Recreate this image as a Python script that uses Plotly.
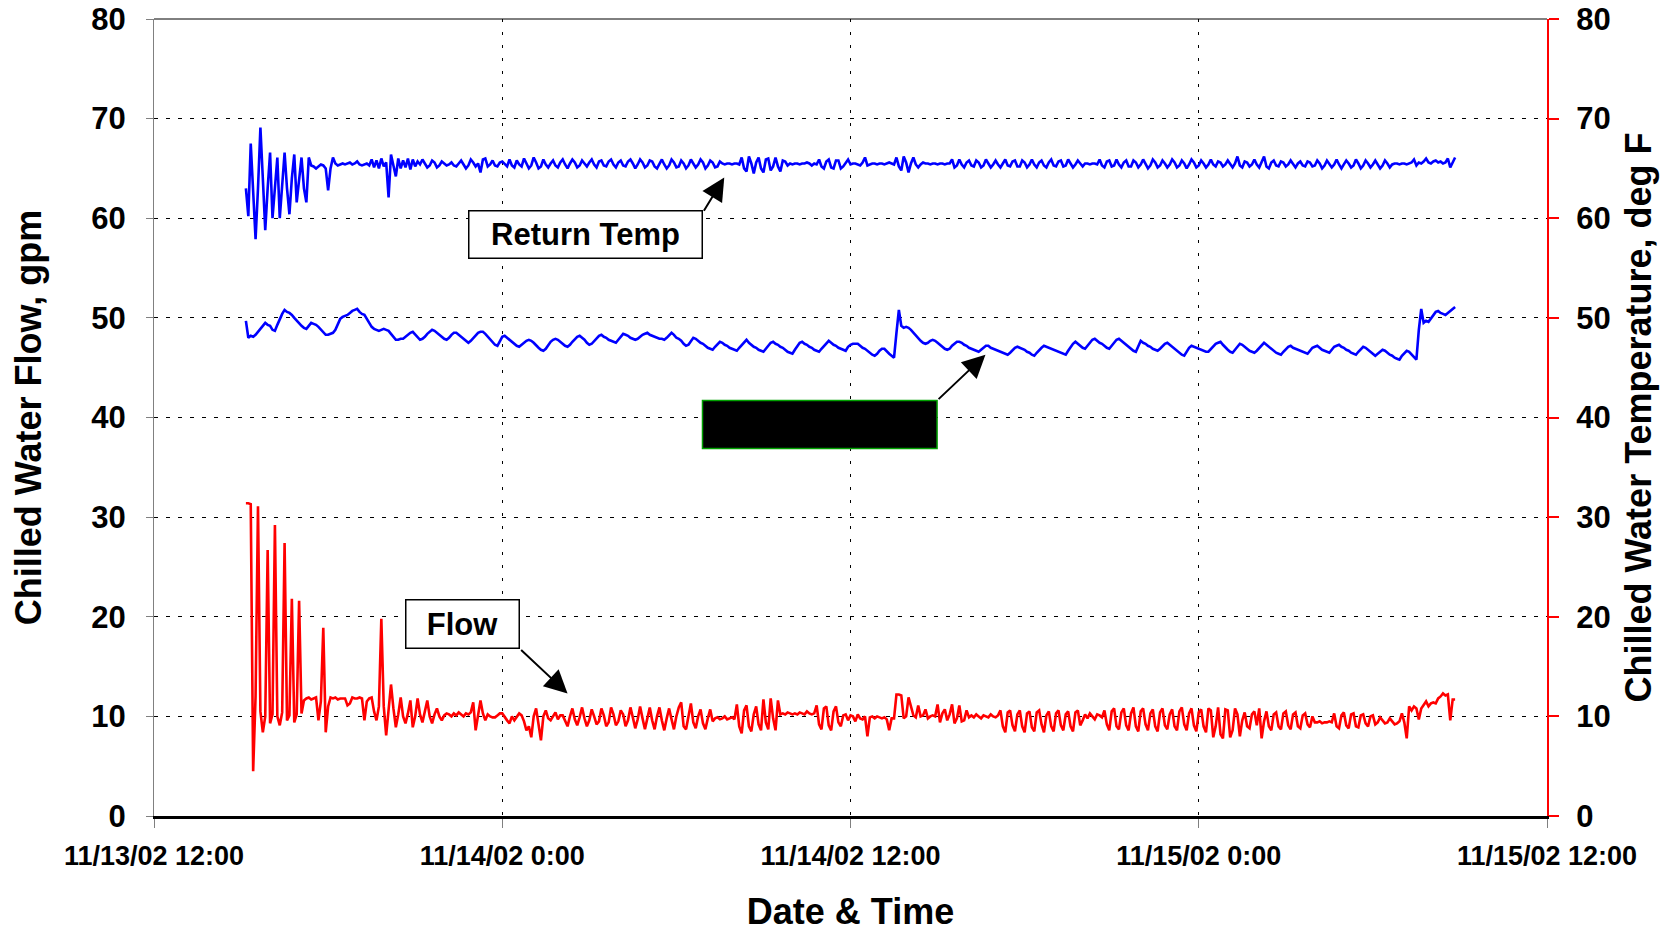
import pandas as pd
import plotly.graph_objects as go

# ---------------- data (5-minute readings starting 11/13/02 15:10) ----------------
start_time = "2002-11-13 15:10"

flow_gpm = [
    31.4, 31.4, 31.3, 4.5, 12.0, 31.1, 10.5, 8.4, 10.0, 26.7, 9.3, 10.2,
    29.2, 10.0, 9.1, 10.4, 27.4, 9.6, 10.1, 21.8, 9.4, 10.2, 21.6, 10.3,
    11.6, 11.8, 11.9, 11.7, 11.8, 11.9, 9.6, 11.5, 18.9, 8.4, 11.0, 11.9,
    11.8, 11.9, 11.7, 11.8, 11.8, 11.8, 11.1, 11.3, 11.9, 11.8, 11.8, 11.9,
    11.8, 9.6, 11.5, 11.8, 11.9, 10.5, 9.6, 11.0, 19.8, 11.0, 8.1, 10.5,
    13.2, 10.8, 8.9, 10.2, 11.9, 10.0, 9.3, 10.3, 11.6, 8.9, 10.0, 11.8,
    10.2, 9.4, 10.5, 11.6, 10.0, 9.3, 10.2, 10.8, 10.0, 9.6, 10.1, 10.3,
    10.2, 10.0, 10.3, 10.1, 10.4, 10.2, 10.0, 10.3, 10.2, 10.4, 11.4, 8.6,
    10.0, 11.6, 10.3, 9.6, 10.2, 10.0, 9.9, 9.9, 10.1, 10.3, 10.3, 9.9,
    9.6, 9.3, 10.0, 9.6, 9.9, 10.3, 10.1, 9.5, 8.6, 9.0, 7.9, 10.0,
    10.8, 9.0, 7.6, 10.0, 10.6, 9.8, 9.6, 10.0, 10.4, 9.7, 10.1, 10.1,
    9.6, 9.0, 10.0, 10.8, 9.7, 9.1, 9.9, 10.9, 9.8, 9.0, 9.6, 10.7,
    10.0, 9.2, 9.5, 10.8, 10.1, 9.0, 9.4, 10.9, 10.2, 9.1, 9.5, 10.6,
    10.2, 9.0, 9.6, 10.9, 9.9, 8.8, 9.7, 11.0, 9.8, 8.7, 9.8, 10.9,
    9.6, 8.7, 10.0, 10.9, 9.6, 8.6, 9.8, 10.8, 9.7, 8.7, 10.0, 10.9,
    11.4, 9.0, 8.7, 10.2, 11.3, 9.4, 8.8, 10.0, 10.7, 9.3, 8.7, 9.8,
    10.7, 9.5, 9.8, 9.9, 9.7, 9.8, 10.0, 9.7, 9.8, 9.9, 9.7, 11.2,
    9.0, 8.3, 10.6, 11.1, 9.0, 8.5, 10.2, 11.0, 9.2, 8.6, 11.7, 9.4,
    8.7, 11.8, 9.8, 8.6, 11.6, 10.2, 10.3, 10.2, 10.4, 10.3, 10.2, 10.3,
    10.2, 10.4, 10.3, 10.2, 10.5, 10.3, 10.2, 10.3, 11.1, 9.2, 8.7, 10.8,
    11.0, 9.1, 8.6, 10.5, 11.0, 9.4, 9.0, 10.1, 10.2, 9.6, 10.1, 10.0,
    9.5, 10.2, 9.8, 9.7, 10.0, 8.0, 9.9, 10.0, 9.8, 10.0, 9.9, 9.8,
    9.9, 9.7, 8.6, 9.8, 9.8, 12.2, 12.2, 12.1, 9.8, 10.0, 11.9, 10.9,
    10.1, 9.9, 11.1, 10.0, 10.1, 10.7, 9.8, 10.0, 10.1, 10.0, 11.2, 9.4,
    10.3, 10.7, 9.6, 10.2, 11.2, 9.3, 9.8, 11.1, 9.5, 9.6, 10.6, 9.9,
    10.1, 9.9, 10.2, 10.0, 9.8, 10.1, 10.0, 9.9, 10.2, 10.0, 9.9, 10.1,
    10.6, 9.0, 8.4, 10.4, 10.6, 9.1, 8.5, 10.2, 10.6, 9.0, 8.4, 10.3,
    10.5, 8.9, 8.5, 10.4, 10.6, 9.2, 8.4, 10.1, 10.5, 9.0, 8.5, 10.3,
    10.6, 9.1, 8.6, 10.2, 10.5, 9.0, 8.5, 10.4, 10.6, 9.1, 9.6, 10.2,
    9.8, 10.3, 10.0, 9.7, 10.2, 10.1, 9.9, 10.6, 9.2, 8.6, 10.5, 10.8,
    9.0, 8.7, 10.4, 10.8, 9.1, 8.6, 10.3, 10.9, 9.0, 8.5, 10.5, 10.8,
    9.2, 8.6, 10.3, 10.7, 9.0, 8.5, 10.4, 10.8, 9.1, 8.7, 10.2, 10.7,
    9.0, 8.6, 10.5, 10.9, 9.2, 8.6, 10.3, 10.8, 9.1, 8.5, 10.4, 10.7,
    9.0, 8.4, 10.8, 10.6, 7.9, 9.0, 10.9, 8.2, 7.8, 10.7, 10.6, 7.9,
    8.6, 10.8, 10.2, 8.0, 9.6, 10.4, 9.0, 8.8, 10.2, 10.5, 9.1, 10.8,
    7.8, 9.5, 10.5, 9.0, 8.6, 10.2, 10.4, 9.0, 8.7, 10.3, 10.5, 9.1,
    8.7, 10.2, 10.4, 9.0, 8.8, 10.1, 10.3, 9.2, 8.9, 10.0, 9.4, 9.4,
    9.5, 9.3, 9.4, 9.4, 9.5, 9.4, 10.3, 9.0, 8.8, 10.1, 10.4, 9.1,
    8.8, 10.2, 10.3, 9.0, 8.9, 10.1, 10.2, 9.3, 9.0, 10.0, 10.1, 9.2,
    9.4, 9.9, 9.6, 9.3, 9.4, 9.8, 9.5, 9.2, 9.3, 9.5, 10.3, 9.4,
    7.8, 11.0, 10.6, 11.0, 10.8, 9.7, 10.8, 11.2, 11.5, 11.0, 11.3, 11.4,
    11.3, 11.8, 12.0, 12.3, 12.1, 12.2, 9.6, 11.7, 11.7,
]

return_temp_f = [
    63.0, 60.2, 67.5, 62.0, 57.9, 63.0, 69.1, 64.0, 58.8, 63.0, 66.6, 60.0,
    63.5, 66.1, 60.0, 63.0, 66.6, 63.0, 60.4, 64.0, 66.4, 61.6, 64.0, 66.1,
    63.0, 61.6, 66.1, 65.3, 65.2, 65.0, 65.2, 65.4, 65.3, 65.0, 62.8, 65.0,
    66.1, 65.5, 65.3, 65.4, 65.5, 65.4, 65.5, 65.6, 65.4, 65.5, 65.7, 65.4,
    65.3, 65.4, 65.5, 65.3, 65.9, 65.1, 65.8, 65.0, 66.0, 65.2, 65.6, 62.1,
    66.4, 65.3, 64.2, 66.0, 65.0, 65.8, 65.1, 66.0, 64.9, 65.9, 65.2, 65.7,
    65.4, 65.9, 65.5, 65.1, 65.3, 65.8, 65.6, 65.1, 65.3, 65.7, 65.5, 65.3,
    65.4, 65.6, 65.3, 65.2, 65.5, 65.8, 65.4, 65.0, 65.3, 65.9, 65.6, 65.2,
    65.5, 64.6, 65.9, 66.0, 65.2, 65.4, 65.8, 65.3, 65.2, 65.6, 65.7, 65.4,
    65.2, 65.9, 65.3, 65.1, 65.8, 65.4, 65.2, 66.0, 65.5, 65.0, 65.3, 66.1,
    65.6, 65.0, 65.2, 65.9, 65.4, 65.1, 65.5, 65.8, 65.3, 65.1, 65.6, 65.9,
    65.4, 65.0, 65.5, 65.9, 65.6, 65.1, 65.3, 65.8, 65.5, 65.2, 65.6, 65.9,
    65.4, 65.1, 65.7, 65.8, 65.3, 65.2, 65.7, 65.9, 65.4, 65.1, 65.6, 65.8,
    65.3, 65.2, 65.7, 65.9, 65.5, 65.0, 65.4, 65.9, 65.6, 65.1, 65.3, 65.8,
    65.7, 65.2, 65.0, 65.5, 65.9, 65.4, 65.0, 65.3, 65.9, 65.6, 65.1, 65.2,
    65.8, 65.5, 65.0, 65.3, 65.9, 65.5, 65.1, 65.4, 65.9, 65.6, 65.0, 65.3,
    65.8, 65.6, 65.1, 65.2, 65.7, 65.5, 65.4, 65.5, 65.5, 65.4, 65.5, 65.5,
    65.4, 66.1, 65.0, 64.7, 66.2, 65.5, 64.5, 65.6, 66.1, 65.0, 64.6, 65.9,
    66.0, 64.8, 65.2, 66.1, 65.2, 64.7, 65.8, 65.7, 65.3, 65.5, 65.4, 65.5,
    65.5, 65.4, 65.5, 65.5, 65.6, 65.5, 65.3, 65.5, 65.4, 65.9, 65.2, 65.0,
    65.7, 65.9, 65.1, 65.0, 65.8, 65.8, 65.0, 65.2, 65.6, 65.9, 65.4, 65.5,
    65.5, 65.4, 65.3, 65.6, 66.1, 65.3, 65.4, 65.5, 65.5, 65.4, 65.5, 65.5,
    65.4, 65.5, 65.6, 65.5, 65.4, 66.1, 65.2, 64.8, 66.2, 65.6, 64.6, 65.5,
    66.1, 65.4, 65.1, 65.4, 65.6, 65.5, 65.5, 65.4, 65.5, 65.5, 65.4, 65.5,
    65.5, 65.4, 65.5, 65.5, 65.9, 65.1, 65.3, 65.9, 65.4, 65.1, 65.6, 65.8,
    65.3, 65.2, 65.8, 65.6, 65.1, 65.3, 65.9, 65.5, 65.1, 65.4, 65.8, 65.4,
    65.1, 65.5, 65.9, 65.3, 65.2, 65.7, 65.8, 65.2, 65.2, 65.8, 65.6, 65.1,
    65.4, 65.9, 65.4, 65.1, 65.6, 65.8, 65.3, 65.1, 65.6, 65.9, 65.3, 65.2,
    65.7, 65.8, 65.2, 65.3, 65.9, 65.5, 65.1, 65.4, 65.8, 65.5, 65.2, 65.5,
    65.5, 65.4, 65.5, 65.5, 65.4, 65.9, 65.3, 65.1, 65.7, 65.8, 65.2, 65.3,
    65.9, 65.4, 65.1, 65.6, 65.8, 65.2, 65.2, 65.8, 65.6, 65.1, 65.4, 65.9,
    65.5, 65.0, 65.3, 65.9, 65.6, 65.1, 65.3, 65.8, 65.5, 65.1, 65.4, 65.9,
    65.6, 65.1, 65.3, 65.8, 65.5, 65.0, 65.4, 65.9, 65.6, 65.1, 65.3, 65.8,
    65.5, 65.1, 65.4, 65.9, 65.4, 65.2, 65.7, 65.6, 65.2, 65.4, 65.8, 65.4,
    65.1, 65.5, 66.2, 65.3, 65.1, 65.7, 65.6, 65.2, 65.4, 65.9, 65.4, 65.1,
    65.6, 66.2, 65.2, 65.0, 65.6, 65.8, 65.3, 65.2, 65.7, 65.6, 65.2, 65.4,
    65.8, 65.4, 65.1, 65.5, 65.7, 65.3, 65.2, 65.7, 65.6, 65.2, 65.3, 65.8,
    65.5, 65.0, 65.3, 65.8, 65.5, 65.1, 65.4, 65.9, 65.4, 65.0, 65.4, 65.8,
    65.5, 65.1, 65.3, 65.9, 65.5, 65.0, 65.3, 65.8, 65.5, 65.1, 65.4, 65.8,
    65.4, 65.0, 65.3, 65.8, 65.5, 65.1, 65.4, 65.5, 65.5, 65.4, 65.5, 65.5,
    65.4, 65.5, 65.6, 65.9, 65.3, 65.6, 65.5, 65.7, 66.0, 65.6, 65.5, 65.7,
    65.8, 65.6, 65.7, 65.5, 65.6, 66.0, 65.1, 65.6, 66.1,
]

supply_temp_f = [
    49.7, 48.0, 48.2, 48.1, 48.3, 48.6, 48.9, 49.1, 49.5, 49.3, 49.2, 48.8,
    48.7, 49.3, 49.9, 50.4, 50.8, 50.6, 50.5, 50.3, 50.0, 49.7, 49.5, 49.2,
    49.0, 48.9, 49.2, 49.5, 49.4, 49.3, 49.1, 48.8, 48.5, 48.3, 48.3, 48.4,
    48.5, 48.8, 49.4, 49.9, 50.1, 50.2, 50.3, 50.5, 50.7, 50.8, 50.9, 50.6,
    50.4, 50.3, 49.9, 49.5, 49.1, 48.9, 48.8, 48.7, 48.8, 48.9, 48.8, 48.7,
    48.4, 48.1, 47.8, 47.8, 47.9, 47.9, 48.1, 48.3, 48.5, 48.6, 48.3, 48.0,
    47.8, 47.9, 48.1, 48.4, 48.6, 48.8, 48.7, 48.5, 48.3, 48.1, 47.9, 47.8,
    48.0, 48.3, 48.5, 48.5, 48.3, 48.1, 47.9, 47.7, 47.5, 47.7, 48.0, 48.3,
    48.5, 48.6, 48.6, 48.4, 48.1, 47.8, 47.5, 47.3, 47.2, 47.6, 48.1, 48.2,
    48.0, 47.8, 47.6, 47.4, 47.2, 47.1, 47.3, 47.5, 47.7, 47.8, 47.7, 47.5,
    47.2, 47.0, 46.8, 46.7, 46.9, 47.3, 47.6, 47.8, 47.9, 47.8, 47.6, 47.4,
    47.2, 47.1, 47.3, 47.6, 47.9, 48.1, 48.2, 48.0, 47.8, 47.5, 47.3, 47.4,
    47.7, 48.0, 48.2, 48.3, 48.1, 48.0, 47.8, 47.7, 47.6, 47.5, 47.8, 48.1,
    48.4, 48.3, 48.2, 48.0, 47.9, 47.8, 47.9, 48.1, 48.3, 48.4, 48.5, 48.3,
    48.2, 48.1, 48.0, 47.9, 47.9, 47.8, 48.0, 48.3, 48.5, 48.3, 48.0, 47.9,
    47.7, 47.4, 47.2, 47.3, 47.7, 48.0, 47.9, 47.7, 47.5, 47.4, 47.2, 47.0,
    46.9, 46.8, 47.1, 47.4, 47.6, 47.5, 47.3, 47.2, 47.0, 46.9, 46.8, 46.7,
    47.0, 47.3, 47.6, 47.8, 47.5, 47.3, 47.1, 47.0, 46.8, 46.7, 46.6, 46.9,
    47.2, 47.5, 47.6, 47.4, 47.3, 47.1, 47.0, 46.8, 46.6, 46.5, 46.4, 46.8,
    47.2, 47.5, 47.6, 47.4, 47.3, 47.1, 47.0, 46.8, 46.7, 46.6, 46.9, 47.2,
    47.5, 47.7, 47.5, 47.3, 47.2, 47.0, 46.9, 46.8, 46.7, 47.1, 47.3, 47.4,
    47.4, 47.4, 47.2, 47.0, 46.9, 46.7, 46.5, 46.3, 46.2, 46.4, 46.7, 46.9,
    46.9, 46.6, 46.4, 46.2, 46.0, 48.5, 50.8, 49.2, 49.0, 49.1, 49.0, 48.8,
    48.5, 48.2, 47.9, 47.7, 47.5, 47.4, 47.5, 47.7, 47.8, 47.7, 47.5, 47.3,
    47.1, 46.9, 46.8, 46.9, 47.2, 47.4, 47.6, 47.6, 47.5, 47.3, 47.2, 47.0,
    46.9, 46.8, 46.7, 46.6, 46.8, 47.0, 47.2, 47.2, 47.0, 46.9, 46.8, 46.7,
    46.6, 46.5, 46.4, 46.3, 46.5, 46.8, 47.0, 47.1, 47.0, 46.9, 46.8, 46.6,
    46.5, 46.3, 46.2, 46.5, 46.8, 47.0, 47.2, 47.1, 47.0, 46.9, 46.8, 46.7,
    46.6, 46.5, 46.4, 46.3, 46.7, 47.1, 47.4, 47.6, 47.4, 47.2, 47.0, 46.9,
    47.2, 47.5, 47.8, 47.9, 47.7, 47.5, 47.4, 47.2, 47.0, 46.9, 47.2, 47.5,
    47.8, 47.9, 47.7, 47.5, 47.3, 47.1, 46.9, 46.7, 46.6, 47.2, 47.7, 47.5,
    47.4, 47.2, 47.1, 46.9, 46.8, 46.7, 46.9, 47.2, 47.4, 47.5, 47.3, 47.1,
    46.9, 46.7, 46.5, 46.3, 46.2, 46.6, 47.0, 47.2, 47.1, 47.0, 46.9, 46.8,
    46.7, 46.6, 46.6, 46.9, 47.2, 47.4, 47.5, 47.6, 47.3, 47.0, 46.8, 46.6,
    46.5, 46.8, 47.1, 47.4, 47.3, 47.1, 46.9, 46.7, 46.6, 46.5, 46.7, 47.0,
    47.3, 47.5, 47.3, 47.1, 46.9, 46.7, 46.5, 46.4, 46.3, 46.6, 46.9, 47.1,
    47.2, 47.0, 46.9, 46.8, 46.7, 46.6, 46.5, 46.4, 46.7, 47.0, 47.1, 47.2,
    47.0, 46.8, 46.7, 46.6, 46.5, 46.8, 47.1, 47.2, 47.3, 47.1, 47.0, 46.8,
    46.7, 46.5, 46.4, 46.3, 46.6, 46.9, 47.1, 47.0, 46.8, 46.6, 46.4, 46.2,
    46.4, 46.6, 46.8, 46.7, 46.5, 46.3, 46.2, 46.0, 45.9, 45.8, 46.2, 46.5,
    46.7, 46.6, 46.3, 46.0, 45.8, 48.8, 50.9, 49.5, 49.7, 49.6, 49.9, 50.3,
    50.6, 50.7, 50.5, 50.4, 50.3, 50.5, 50.7, 50.9, 51.1,
]

x_tick_times = ["2002-11-13 12:00", "2002-11-14 00:00", "2002-11-14 12:00",
                "2002-11-15 00:00", "2002-11-15 12:00"]
x_tick_labels = ["11/13/02 12:00", "11/14/02 0:00", "11/14/02 12:00",
                 "11/15/02 0:00", "11/15/02 12:00"]
y_ticks = [0, 10, 20, 30, 40, 50, 60, 70, 80]

# ---------------- figure ----------------
FONT = "Liberation Sans, Arial, sans-serif"


def times(n):
    return pd.date_range(start=start_time, periods=n, freq="5min")


fig = go.Figure()
fig.add_trace(go.Scatter(x=times(len(flow_gpm)), y=flow_gpm, mode="lines",
                         line=dict(color="#FF0000", width=2.6), yaxis="y",
                         name="Flow"))
fig.add_trace(go.Scatter(x=times(len(return_temp_f)), y=return_temp_f, mode="lines",
                         line=dict(color="#0000FF", width=2.6), yaxis="y2",
                         name="Return Temp"))
fig.add_trace(go.Scatter(x=times(len(supply_temp_f)), y=supply_temp_f, mode="lines",
                         line=dict(color="#0000FF", width=2.6), yaxis="y2",
                         name="Supply Temp"))

xtickfont = dict(family=FONT, size=27, color="black", weight="bold")
ytickfont = dict(family=FONT, size=31, color="black", weight="bold")
titlefont = dict(family=FONT, size=36, color="black", weight="bold")

# the page body adds an 8 px offset; margins compensate for it
fig.update_layout(
    width=1671, height=930,
    margin=dict(l=146, r=132, t=11, b=122),
    paper_bgcolor="white", plot_bgcolor="white",
    showlegend=False,
    font=dict(family=FONT, color="black", weight="bold"),
    xaxis=dict(
        range=[x_tick_times[0], x_tick_times[-1]], automargin=False,
        tickvals=x_tick_times, ticktext=x_tick_labels,
        tickfont=xtickfont, ticks="outside", ticklen=9, tickcolor="#808080",
        tickwidth=1, ticklabelstandoff=5, ticklabeloverflow="allow",
        showgrid=True, gridcolor="black", gridwidth=1, griddash="3px,10px",
        showline=True, linecolor="black", linewidth=2.5, zeroline=False,
        title=dict(text="Date & Time", font=titlefont, standoff=29),
    ),
    yaxis=dict(
        range=[0, 80], tickvals=y_ticks, tickfont=ytickfont, automargin=False,
        ticks="outside", ticklen=7, tickcolor="#808080", ticklabelstandoff=14,
        ticklabeloverflow="allow",
        showgrid=True, gridcolor="black", gridwidth=1, griddash="4px,8px",
        showline=True, linecolor="#808080", linewidth=1, zeroline=False,
        title=dict(text="Chilled Water Flow, gpm", font=titlefont, standoff=42),
    ),
    yaxis2=dict(
        range=[0, 80], tickvals=y_ticks, tickfont=ytickfont, automargin=False,
        overlaying="y", side="right",
        ticks="outside", ticklen=10, tickcolor="#FF0000", tickwidth=2,
        ticklabelstandoff=11, ticklabeloverflow="allow",
        showgrid=False, showline=True, linecolor="#FF0000", linewidth=2,
        zeroline=False,
        title=dict(text="Chilled Water Temperature, deg F", font=titlefont,
                   standoff=16),
    ),
    yaxis3=dict(
        range=[0, 80], tickvals=y_ticks, overlaying="y", side="right",
        automargin=False,
        ticks="inside", ticklen=10, tickcolor="#FF0000", tickwidth=2,
        showticklabels=False, showgrid=False, showline=False, zeroline=False,
    ),
)

# top border of plot area
fig.add_shape(type="line", xref="paper", yref="paper", x0=0, x1=1, y0=1, y1=1,
              line=dict(color="black", width=1))

# redacted label box
fig.add_shape(type="rect", xref="x", yref="y",
              x0="2002-11-14 06:54", x1="2002-11-14 14:59", y0=36.9, y1=41.7,
              fillcolor="black", line=dict(color="#00A000", width=1.5))

boxfont = dict(family=FONT, size=31, color="black", weight="bold")
# labelled boxes
fig.add_annotation(x="2002-11-14 02:52", y=58.35, xref="x", yref="y",
                   text="Return Temp", showarrow=False, font=boxfont,
                   bgcolor="white", bordercolor="black", borderwidth=1.5,
                   borderpad=1, width=230, height=44)
fig.add_annotation(x="2002-11-13 22:38", y=19.25, xref="x", yref="y",
                   text="Flow", showarrow=False, font=boxfont,
                   bgcolor="white", bordercolor="black", borderwidth=1.5,
                   borderpad=1, width=110, height=45)

# arrows
arrow_kw = dict(text="", showarrow=True, arrowhead=2, arrowsize=2.3,
                arrowwidth=2, arrowcolor="black", xref="x", yref="y",
                axref="x", ayref="y", standoff=0, startstandoff=0)
fig.add_annotation(x="2002-11-14 07:39", y=64.1, ax="2002-11-14 06:55", ay=60.6,
                   **arrow_kw)
fig.add_annotation(x="2002-11-14 16:39", y=46.3, ax="2002-11-14 14:59", ay=41.7,
                   **arrow_kw)
fig.add_annotation(x="2002-11-14 02:15", y=12.3, ax="2002-11-14 00:36", ay=16.8,
                   **arrow_kw)

fig.write_html("out.html")
